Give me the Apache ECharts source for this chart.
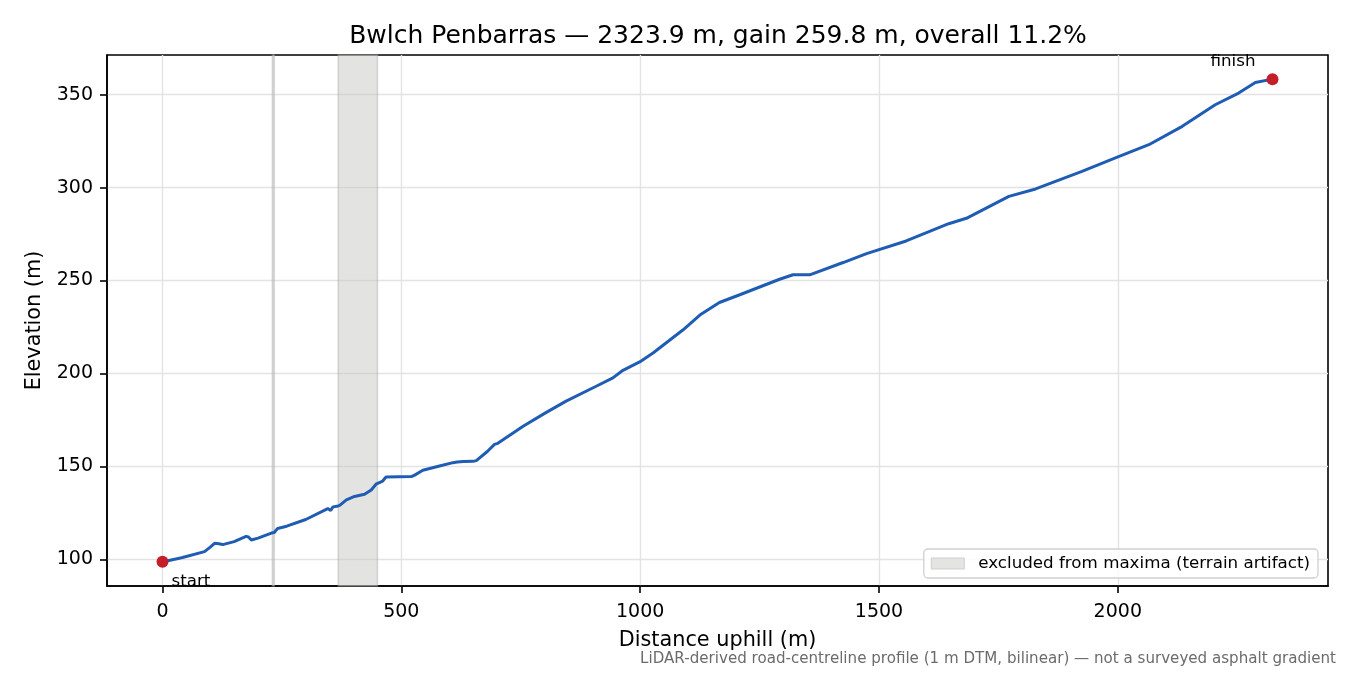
<!DOCTYPE html>
<html>
<head>
<meta charset="utf-8">
<script src="https://cdn.jsdelivr.net/npm/echarts@6/dist/echarts.min.js"></script>
<style>
html,body{margin:0;padding:0;background:#fff;}
#chart{width:1350px;height:675px;}
</style>
</head>
<body>
<div id="chart"></div>
<script>
const distance = [0, 11, 40, 88, 100, 109, 118, 126, 150, 175, 180, 186, 200, 228, 234, 241, 260, 300, 346, 352, 357, 365, 371, 385, 402, 423, 437, 447, 461, 468, 521, 528, 545, 580, 608, 611, 617, 630, 650, 657, 680, 695, 702, 755, 800, 845, 908, 943, 964, 999, 1027, 1090, 1125, 1166, 1210, 1257, 1292, 1320, 1355, 1425, 1474, 1557, 1646, 1683, 1772, 1828, 1925, 1995, 2065, 2135, 2204, 2253, 2288, 2323.9];
const elevation = [98.6, 99.2, 100.8, 104.1, 106.5, 108.6, 108.3, 107.9, 109.5, 112.3, 112.0, 110.4, 111.4, 114.1, 114.4, 116.6, 117.8, 121.4, 127.3, 126.3, 128.2, 128.5, 129.0, 132.0, 133.8, 135.0, 137.3, 140.4, 142.1, 144.3, 144.5, 145.3, 147.9, 150.2, 152.0, 152.9, 152.3, 152.6, 152.7, 153.1, 158.0, 161.8, 162.4, 171.6, 178.5, 185.1, 193.1, 197.6, 201.7, 206.2, 211.0, 223.5, 231.4, 238.2, 242.5, 247.2, 250.7, 253.1, 253.1, 259.7, 264.5, 271.3, 280.6, 283.5, 295.3, 299.3, 308.8, 316.0, 323.1, 333.0, 344.6, 350.9, 356.6, 358.4];
const xTicks = [0, 500, 1000, 1500, 2000];
const yTicks = [100, 150, 200, 250, 300, 350];
const excludedStart = [230, 368];
const excludedEnd = [234, 450];
const titleText = 'Bwlch Penbarras — 2323.9 m, gain 259.8 m, overall 11.2%';
const bandName = 'excluded from maxima (terrain artifact)';
const footnote = 'LiDAR-derived road-centreline profile (1 m DTM, bilinear) — not a surveyed asphalt gradient';

const FONT = 'DejaVu Sans';
const lineData = distance.map((d, i) => [d, elevation[i]]);
const xSpan = distance[distance.length - 1] - distance[0];
const yMinD = Math.min(...elevation), yMaxD = Math.max(...elevation);
const ySpan = yMaxD - yMinD;

const chart = echarts.init(document.getElementById('chart'), null, {renderer: 'canvas'});
chart.setOption({
  animation: false,
  backgroundColor: '#fff',
  title: {
    text: titleText, left: 713, top: 19, textAlign: 'center',
    textStyle: {fontFamily: FONT, fontSize: 25, fontWeight: 'normal', color: '#000'}
  },
  grid: {left: 107, right: 22, top: 55, bottom: 89, containLabel: false,
         show: true, borderColor: '#000', borderWidth: 1.6, backgroundColor: 'transparent'},
  legend: {
    right: 32, bottom: 97, orient: 'vertical',
    data: [{name: bandName, icon: 'rect'}],
    itemWidth: 33, itemHeight: 11,
    padding: [6, 8, 6, 7],
    backgroundColor: 'rgba(255,255,255,0.8)', borderColor: '#d0d0d0', borderWidth: 1.3, borderRadius: 4,
    textStyle: {fontFamily: FONT, fontSize: 16.7, color: '#000', padding: [0, 0, 0, 9]},
    itemStyle: {color: '#e4e4e2', borderColor: '#cfcfcf', borderWidth: 1}
  },
  xAxis: {
    type: 'value', min: distance[0] - 0.05 * xSpan, max: distance[distance.length - 1] + 0.05 * xSpan,
    name: 'Distance uphill (m)', nameLocation: 'middle', nameGap: 44,
    nameTextStyle: {fontFamily: FONT, fontSize: 20.8, color: '#000'},
    axisLine: {onZero: false, lineStyle: {color: '#000', width: 1.6}},
    axisTick: {show: true, inside: false, length: 7, lineStyle: {color: '#000', width: 1.6}, customValues: xTicks},
    axisLabel: {fontFamily: FONT, fontSize: 19, color: '#000', margin: 17, customValues: xTicks, formatter: v => String(v)},
    splitLine: {show: true, lineStyle: {color: '#e3e3e3', width: 1.4}}
  },
  yAxis: {
    type: 'value', min: yMinD - 0.05 * ySpan, max: yMaxD + 0.05 * ySpan,
    name: 'Elevation (m)', nameLocation: 'middle', nameGap: 62,
    nameTextStyle: {fontFamily: FONT, fontSize: 20.8, color: '#000'},
    axisLine: {show: true, onZero: false, lineStyle: {color: '#000', width: 1.6}},
    axisTick: {show: true, inside: false, length: 7, lineStyle: {color: '#000', width: 1.6}, customValues: yTicks},
    axisLabel: {fontFamily: FONT, fontSize: 19, color: '#000', margin: 14, customValues: yTicks, formatter: v => String(v)},
    splitLine: {show: true, lineStyle: {color: '#e3e3e3', width: 1.4}}
  },
  series: [
    {
      name: bandName, type: 'line', data: [], color: '#e4e4e2',
      markArea: {
        silent: true,
        itemStyle: {color: 'rgba(200,200,196,0.5)', borderColor: 'rgba(170,170,170,0.45)', borderWidth: 1.5},
        data: excludedStart.map((s, i) => [{xAxis: s}, {xAxis: excludedEnd[i]}])
      }
    },
    {
      name: 'profile', type: 'line', data: lineData, showSymbol: false, symbol: 'none',
      lineStyle: {color: '#1f5cb4', width: 3}, z: 3
    },
    {
      name: 'ends', type: 'scatter', symbolSize: 12, z: 4,
      itemStyle: {color: '#c41e2a', opacity: 1},
      data: [
        {value: lineData[0], label: {show: true, formatter: 'start', position: [15, 17], align: 'left', verticalAlign: 'top', fontFamily: FONT, fontSize: 16.7, color: '#000', opacity: 1}},
        {value: lineData[lineData.length - 1], label: {show: true, formatter: 'finish', position: [-11, -11], align: 'right', verticalAlign: 'middle', fontFamily: FONT, fontSize: 16.7, color: '#000', opacity: 1}}
      ]
    }
  ],
  graphic: [
    {type: 'text', right: 14, top: 652, style: {text: footnote, fontFamily: FONT, fontSize: 15.1, fill: '#6b6b6b', align: 'right'}}
  ]
});
</script>
</body>
</html>
